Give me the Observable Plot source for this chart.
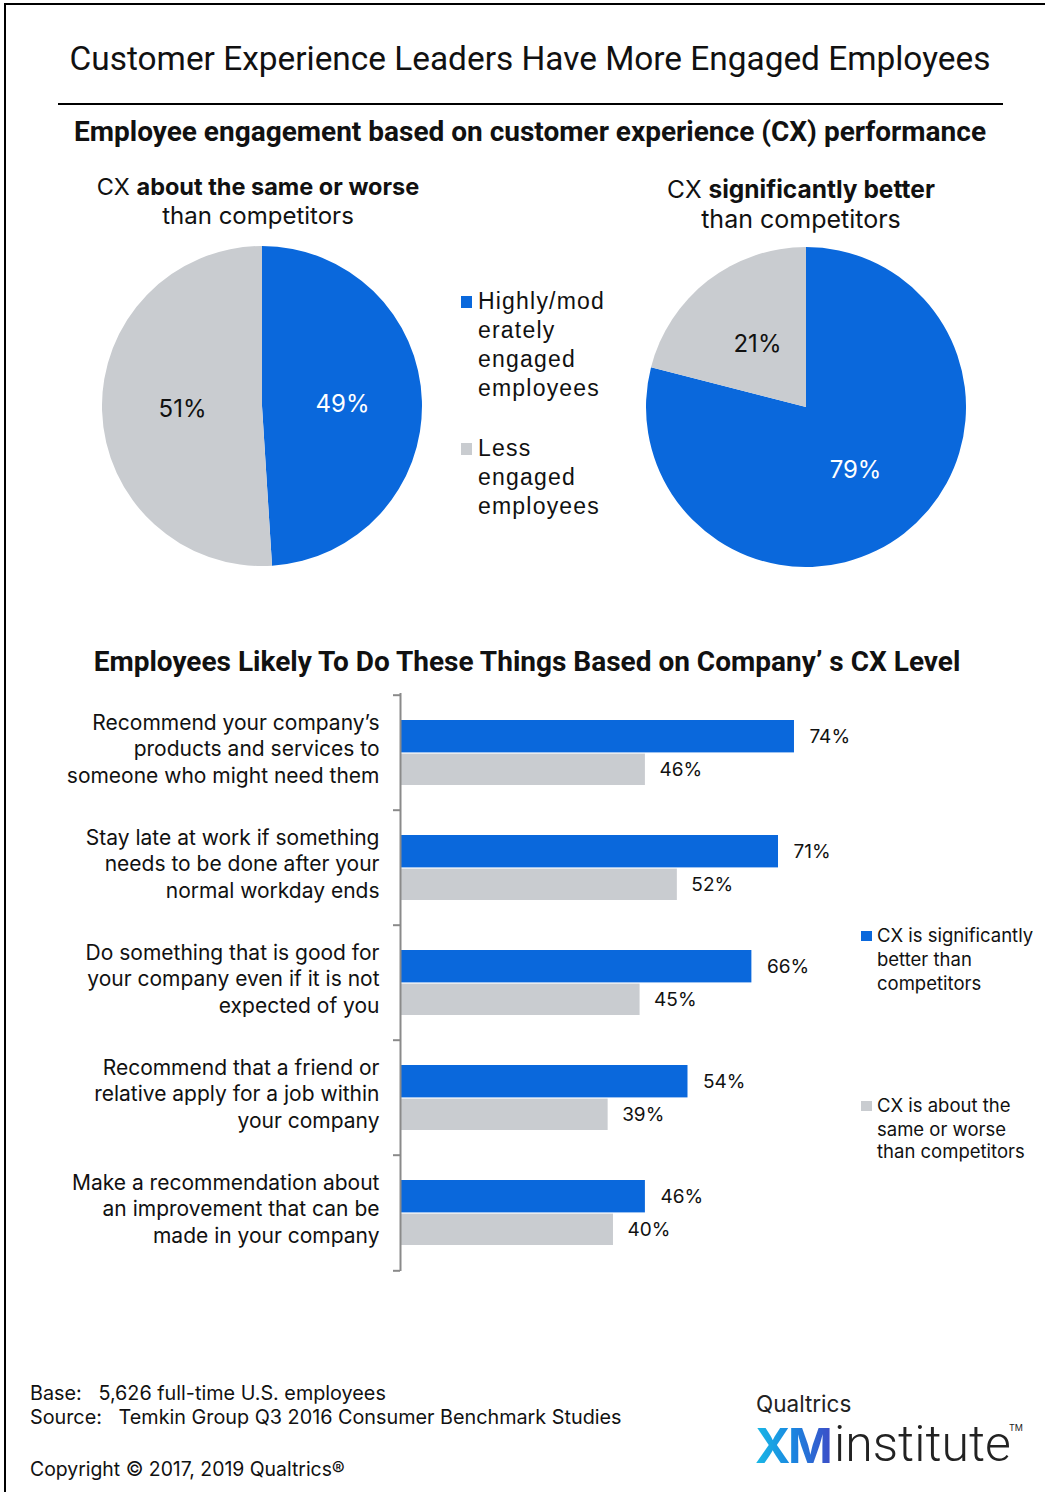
<!DOCTYPE html>
<html><head><meta charset="utf-8">
<script src="https://cdn.jsdelivr.net/npm/d3@7"></script>
<script src="https://cdn.jsdelivr.net/npm/@observablehq/plot@0.6"></script>
<style>
html,body{margin:0;padding:0;background:#fff;}
body{width:1045px;height:1492px;position:relative;overflow:hidden;font-family:Inter,"Liberation Sans",sans-serif;color:#111;}
.t{position:absolute;white-space:nowrap;line-height:1;}
.c{transform:translateX(-50%);text-align:center;}
.narrow{font-family:Roboto,sans-serif;}
.sq{position:absolute;}
.plot{position:absolute;}
</style></head><body>
<div style="position:absolute;left:4px;top:3px;width:1060px;height:1510px;border-left:2px solid #000;border-top:2px solid #000;"></div>
<div class="t c narrow" style="left:530px;top:42px;font-size:33.4px;">Customer Experience Leaders Have More Engaged Employees</div>
<div style="position:absolute;left:58px;top:103px;width:945px;height:2px;background:#000;"></div>
<div class="t c narrow" style="left:530px;top:118px;font-size:28px;font-weight:bold;">Employee engagement based on customer experience (CX) performance</div>

<div class="t c" style="left:258px;top:175px;font-size:23.5px;">CX <b>about the same or worse</b></div>
<div class="t c" style="left:258px;top:204px;font-size:24px;">than competitors</div>
<div class="t c" style="left:801px;top:177px;font-size:24.5px;">CX <b>significantly better</b></div>
<div class="t c" style="left:801px;top:207px;font-size:25px;">than competitors</div>

<div id="pieLegend"></div>
<div id="pieLeft" class="plot" style="left:102px;top:246px;"></div>
<div id="pieRight" class="plot" style="left:646px;top:247px;"></div>

<div class="t c narrow" style="left:527px;top:648px;font-size:28px;font-weight:bold;">Employees Likely To Do These Things Based on Company’ s CX Level</div>
<div id="bars" class="plot" style="left:0px;top:680px;"></div>
<div id="barLegend"></div>

<div class="t" style="left:30px;top:1384px;font-size:19.8px;">Base:&nbsp;&nbsp; 5,626 full-time U.S. employees</div>
<div class="t" style="left:30px;top:1408px;font-size:19.8px;">Source:&nbsp;&nbsp; Temkin Group Q3 2016 Consumer Benchmark Studies</div>
<div class="t" style="left:30px;top:1460px;font-size:19.4px;">Copyright © 2017, 2019 Qualtrics®</div>

<div class="t" style="left:756px;top:1393px;font-size:22.5px;color:#222;">Qualtrics</div>
<div class="t" style="left:755px;top:1422px;font-size:48px;font-weight:bold;letter-spacing:-2.5px;background:linear-gradient(90deg,#19b9e6,#1a86e0 50%,#3c4fc8);-webkit-background-clip:text;background-clip:text;color:transparent;">XM</div>
<div class="t" style="left:834px;top:1419px;font-size:50px;font-weight:300;color:#222;font-family:Roboto,sans-serif;">institute</div>
<div class="t" style="left:1009px;top:1423px;font-size:9px;color:#222;">TM</div>

<script>
// ---------- data ----------
const engagementLevels = ["Highly/moderately engaged employees", "Less engaged employees"];
const pieLegendLines = [["Highly/mod", "erately", "engaged", "employees"], ["Less", "engaged", "employees"]];
const pieSameOrWorse = [49, 51];   // CX about the same or worse than competitors
const pieBetter = [79, 21];        // CX significantly better than competitors

const activities = [
  "Recommend your company’s\nproducts and services to\nsomeone who might need them",
  "Stay late at work if something\nneeds to be done after your\nnormal workday ends",
  "Do something that is good for\nyour company even if it is not\nexpected of you",
  "Recommend that a friend or\nrelative apply for a job within\nyour company",
  "Make a recommendation about\nan improvement that can be\nmade in your company"
];
const cxLevels = ["CX is significantly better than competitors", "CX is about the same or worse than competitors"];
const barLegendLines = [["CX is significantly", "better than", "competitors"], ["CX is about the", "same or worse", "than competitors"]];
const cxBetter = [74, 71, 66, 54, 46];
const cxSameOrWorse = [46, 52, 45, 39, 40];

const BLUE = "#0a68dc", GRAY = "#c9ccd0";

// ---------- pies ----------
function pieChart(values) {
  const slices = d3.pie().sort(null)(values).map((a, i) => {
    const [cx, cy] = d3.arc().innerRadius(0).outerRadius(1).centroid(a);
    return {level: engagementLevels[i], value: values[i], a, cx, cy};
  });
  const sliceMark = (index, scales) => {
    const x0 = scales.x(0), y0 = scales.y(0), r = scales.x(1) - x0;
    const arc = d3.arc().innerRadius(0).outerRadius(r);
    const g = d3.create("svg:g").attr("transform", `translate(${x0},${y0})`);
    g.selectAll("path").data(slices).join("path")
      .attr("d", d => arc(d.a))
      .attr("fill", d => scales.color(d.level));
    return g.node();
  };
  return Plot.plot({
    width: 320, height: 320, margin: 0,
    x: {domain: [-1, 1], axis: null},
    y: {domain: [-1, 1], reverse: true, axis: null},
    color: {domain: engagementLevels, range: [BLUE, GRAY]},
    marks: [
      sliceMark,
      Plot.text(slices, {x: "cx", y: "cy", text: d => d.value + "%",
        fill: d => d.level === engagementLevels[0] ? "#fff" : "#111",
        fontSize: 24, fontFamily: "Inter, sans-serif"})
    ]
  });
}
document.getElementById("pieLeft").append(pieChart(pieSameOrWorse));
document.getElementById("pieRight").append(pieChart(pieBetter));

// pie legend
(function(){
  const host = document.getElementById("pieLegend");
  const tops = [290, 437];
  [BLUE, GRAY].forEach((col, k) => {
    const sq = document.createElement("div");
    sq.className = "sq";
    sq.style.cssText = `left:461px;top:${tops[k]+6}px;width:11px;height:12px;background:${col};`;
    host.append(sq);
    pieLegendLines[k].forEach((line, j) => {
      const d = document.createElement("div");
      d.className = "t";
      d.style.cssText = `left:478px;top:${tops[k] + j*29}px;font-size:23px;letter-spacing:1.2px;font-family:'Liberation Sans',sans-serif;`;
      d.textContent = line;
      host.append(d);
    });
  });
})();

// ---------- bars ----------
const barData = activities.flatMap((a, i) => [
  {activity: a, level: cxLevels[0], value: cxBetter[i]},
  {activity: a, level: cxLevels[1], value: cxSameOrWorse[i]}
]);
const blueData = barData.filter(d => d.level === cxLevels[0]);
const grayData = barData.filter(d => d.level === cxLevels[1]);
const BAND = 115.6;
const barChart = Plot.plot({
  width: 1045, height: 601,
  marginTop: 13, marginBottom: 10, marginLeft: 400, marginRight: 112.6,
  x: {domain: [0, 100], axis: null},
  y: {domain: activities, padding: 0, axis: null},
  color: {domain: cxLevels, range: [BLUE, GRAY]},
  marks: [
    Plot.barX(blueData, {x: "value", y: "activity", fill: "level", insetTop: 25, insetBottom: 57.6}),
    Plot.barX(grayData, {x: "value", y: "activity", fill: "level", insetTop: 58.6, insetBottom: 25}),
    Plot.text(blueData, {x: "value", y: "activity", text: d => d.value + "%", dx: 15, dy: -16, textAnchor: "start", fontSize: 19, fill: "#111"}),
    Plot.text(grayData, {x: "value", y: "activity", text: d => d.value + "%", dx: 14, dy: 17, textAnchor: "start", fontSize: 19, fill: "#111"}),
    Plot.text(activities, {x: 0, y: d => d, text: d => d, dx: -21, dy: -5, textAnchor: "end", lineHeight: 1.26, fontSize: 21, fill: "#111"}),
    Plot.ruleX([0], {stroke: "#8a8a8a", strokeWidth: 2}),
    Plot.ruleY(activities, {y: d => d, x1: 0, x2: 0, insetLeft: -7, dy: -BAND/2, stroke: "#8a8a8a", strokeWidth: 2}),
    Plot.ruleY(activities.slice(-1), {y: d => d, x1: 0, x2: 0, insetLeft: -7, dy: BAND/2, stroke: "#8a8a8a", strokeWidth: 2})
  ],
  style: {fontFamily: "Inter, sans-serif", overflow: "visible"}
});
document.getElementById("bars").append(barChart);

// bar legend
(function(){
  const host = document.getElementById("barLegend");
  const tops = [926, 1096];
  const gaps = [[0, 24, 48], [0, 24, 46]];
  [BLUE, GRAY].forEach((col, k) => {
    const sq = document.createElement("div");
    sq.className = "sq";
    sq.style.cssText = `left:861px;top:${tops[k]+5}px;width:11px;height:10px;background:${col};`;
    host.append(sq);
    barLegendLines[k].forEach((line, j) => {
      const d = document.createElement("div");
      d.className = "t";
      d.style.cssText = `left:877px;top:${tops[k] + gaps[k][j]}px;font-size:18.5px;`;
      d.textContent = line;
      host.append(d);
    });
  });
})();
</script>
</body></html>
